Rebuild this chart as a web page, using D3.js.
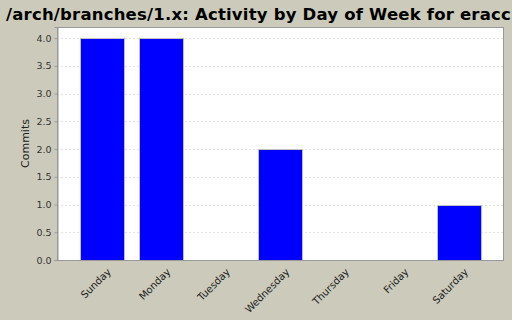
<!DOCTYPE html>
<html>
<head>
<meta charset="utf-8">
<script src="https://cdn.jsdelivr.net/npm/d3@7"></script>
<style>
  body { margin: 0; background: #cccbbb; }
  svg { display: block; }
</style>
</head>
<body>
<div id="chart"></div>
<script>
// data
var days = ["Sunday", "Monday", "Tuesday", "Wednesday", "Thursday", "Friday", "Saturday"];
var commits = [4, 4, 0, 2, 0, 0, 1];
var yTicks = [0, 0.5, 1, 1.5, 2, 2.5, 3, 3.5, 4];

var width = 512, height = 320;
var plot = { left: 57, top: 27, right: 504, bottom: 260 };

var svg = d3.select("#chart").append("svg")
    .attr("width", width)
    .attr("height", height);

svg.append("rect")
    .attr("width", width).attr("height", height)
    .attr("fill", "#cccbbb");

svg.append("text")
    .attr("x", 6).attr("y", 20)
    .attr("font-family", "DejaVu Sans")
    .attr("font-weight", "bold")
    .attr("font-size", 16.5)
    .attr("letter-spacing", 0.2)
    .attr("fill", "#000")
    .text("/arch/branches/1.x: Activity by Day of Week for eracc");

var x = d3.scaleBand()
    .domain(days)
    .range([plot.left, plot.right])
    .paddingInner(0.26)
    .paddingOuter(0.386);

var y = d3.scaleLinear()
    .domain([0, 4.2])
    .range([plot.bottom, plot.top]);

svg.append("rect")
    .attr("x", plot.left).attr("y", plot.top)
    .attr("width", plot.right - plot.left)
    .attr("height", plot.bottom - plot.top)
    .attr("fill", "#fff");

// gridlines
svg.append("g")
    .selectAll("line")
    .data(yTicks)
    .enter().append("line")
    .attr("x1", plot.left).attr("x2", plot.right)
    .attr("y1", function(d) { return Math.round(y(d)) + 0.5; })
    .attr("y2", function(d) { return Math.round(y(d)) + 0.5; })
    .attr("stroke", "#e2e2e2")
    .attr("stroke-dasharray", "2,2");

// bars
svg.append("g")
    .selectAll("rect")
    .data(commits)
    .enter().append("rect")
    .attr("x", function(d, i) { return Math.round(x(days[i])) + 0.5; })
    .attr("y", function(d) { return Math.round(y(d)) + 0.5; })
    .attr("width", x.bandwidth())
    .attr("height", function(d) { return Math.round(y(0)) - Math.round(y(d)); })
    .attr("fill", "#0000ff")
    .attr("stroke", "#c0c0c0")
    .attr("stroke-width", 1)
    .style("display", function(d) { return d > 0 ? null : "none"; });

// plot border
svg.append("rect")
    .attr("x", plot.left + 0.5).attr("y", plot.top + 0.5)
    .attr("width", plot.right - plot.left - 1)
    .attr("height", plot.bottom - plot.top)
    .attr("fill", "none")
    .attr("stroke", "#999");

// y axis
var yAxis = svg.append("g")
    .attr("transform", "translate(" + (plot.left + 0.5) + ",0)")
    .call(d3.axisLeft(y).tickValues(yTicks).tickFormat(d3.format(".1f")).tickSizeOuter(0).tickSize(3));
yAxis.select(".domain").attr("stroke", "#999");
yAxis.selectAll(".tick line").attr("stroke", "#999");
yAxis.selectAll("text")
    .attr("font-family", "DejaVu Sans")
    .attr("font-size", 9.5)
    .attr("fill", "#333");

svg.append("text")
    .attr("transform", "translate(29," + ((plot.top + plot.bottom) / 2) + ") rotate(-90)")
    .attr("text-anchor", "middle")
    .attr("font-family", "DejaVu Sans")
    .attr("font-size", 11)
    .attr("fill", "#222")
    .text("Commits");

// x axis labels
var xAxis = svg.append("g")
    .attr("transform", "translate(0," + plot.bottom + ")")
    .call(d3.axisBottom(x).tickSize(0).tickSizeOuter(0));
xAxis.select(".domain").remove();
xAxis.selectAll("text")
    .attr("font-family", "DejaVu Sans")
    .attr("font-size", 10)
    .attr("fill", "#222")
    .attr("text-anchor", "end")
    .attr("dy", "0.35em")
    .attr("transform", "translate(5,8) rotate(-45)");
</script>
</body>
</html>
